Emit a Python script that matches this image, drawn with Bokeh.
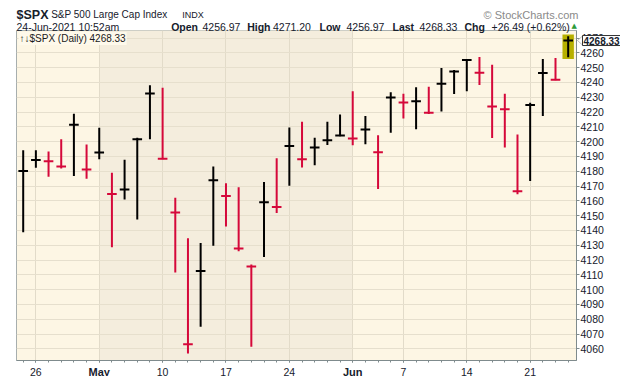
from datetime import date
from bokeh.plotting import figure
from bokeh.models import FixedTicker, Label, Range1d, ColumnDataSource, PolyAnnotation
from bokeh.embed import file_html
from bokeh.resources import INLINE

# ---------------- data ----------------
dates = ["2021-04-23", "2021-04-26", "2021-04-27", "2021-04-28", "2021-04-29", "2021-04-30",
         "2021-05-03", "2021-05-04", "2021-05-05", "2021-05-06", "2021-05-07",
         "2021-05-10", "2021-05-11", "2021-05-12", "2021-05-13", "2021-05-14",
         "2021-05-17", "2021-05-18", "2021-05-19", "2021-05-20", "2021-05-21",
         "2021-05-24", "2021-05-25", "2021-05-26", "2021-05-27", "2021-05-28",
         "2021-06-01", "2021-06-02", "2021-06-03", "2021-06-04",
         "2021-06-07", "2021-06-08", "2021-06-09", "2021-06-10", "2021-06-11",
         "2021-06-14", "2021-06-15", "2021-06-16", "2021-06-17", "2021-06-18",
         "2021-06-21", "2021-06-22", "2021-06-23", "2021-06-24"]
highs = [4194.17, 4194.19, 4193.35, 4201.53, 4218.78, 4198.10,
         4209.39, 4179.04, 4187.72, 4202.70, 4238.04,
         4236.39, 4162.04, 4134.73, 4131.58, 4183.13,
         4171.92, 4169.15, 4116.93, 4172.80, 4188.72,
         4209.52, 4213.42, 4202.61, 4213.38, 4218.36,
         4234.12, 4217.37, 4204.39, 4233.45,
         4232.34, 4236.74, 4237.09, 4249.74, 4248.38,
         4255.59, 4257.16, 4251.89, 4232.29, 4204.78,
         4226.24, 4255.84, 4256.60, 4271.20]
lows = [4138.78, 4182.36, 4176.22, 4181.78, 4176.81, 4174.85,
        4188.03, 4128.59, 4160.94, 4147.33, 4201.64,
        4188.13, 4111.53, 4056.88, 4074.99, 4129.58,
        4142.69, 4125.99, 4061.41, 4121.97, 4151.72,
        4170.16, 4182.52, 4184.11, 4197.78, 4203.57,
        4197.59, 4198.27, 4167.93, 4206.05,
        4215.66, 4208.41, 4218.74, 4220.34, 4232.25,
        4234.07, 4238.35, 4202.45, 4196.05, 4164.40,
        4173.40, 4217.27, 4241.43, 4256.97]
closes = [4180.17, 4187.62, 4186.72, 4183.18, 4211.47, 4181.17,
          4192.66, 4164.66, 4167.59, 4201.62, 4232.60,
          4188.43, 4152.10, 4063.04, 4112.50, 4173.85,
          4163.29, 4127.83, 4115.68, 4159.12, 4155.86,
          4197.05, 4188.13, 4195.99, 4200.88, 4204.11,
          4202.04, 4208.12, 4192.85, 4229.89,
          4226.52, 4227.26, 4219.55, 4239.18, 4247.44,
          4255.15, 4246.59, 4223.70, 4221.86, 4166.45,
          4224.79, 4246.44, 4241.84, 4268.33]
prev_close = 4134.98

tick_dates = ["2021-04-26", "2021-05-03", "2021-05-10", "2021-05-17", "2021-05-24",
              "2021-06-01", "2021-06-07", "2021-06-14", "2021-06-21"]
tick_labels = ["26", "May", "10", "17", "24", "Jun", "7", "14", "21"]
y_ticks = [4060, 4070, 4080, 4090, 4100, 4110, 4120, 4130, 4140, 4150, 4160,
           4170, 4180, 4190, 4200, 4210, 4220, 4230, 4240, 4250, 4260, 4270]

hdr_date = "24-Jun-2021 10:52am"
hdr_open, hdr_high, hdr_low, hdr_last = 4256.97, 4271.20, 4256.97, 4268.33
hdr_chg, hdr_pct = 26.49, 0.62

# ---------------- layout helpers ----------------
W, H = 620, 376
FRAME_L, FRAME_R, FRAME_T, FRAME_B = 16, 576, 30, 360
FIRST_BAR_PX, PX_PER_BAR = 22.7, 12.674
Y_TOP, Y_BOT = 4275.1, 4052.1


def xd(px):
    return (px - FIRST_BAR_PX) / PX_PER_BAR


def ypx(v):
    return FRAME_T + (Y_TOP - v) * (FRAME_B - FRAME_T) / (Y_TOP - Y_BOT)


FONT = "Liberation Sans"
TXT = "#16202C"
RED = "#D5083A"
BLACK = "#000000"
ABS = {"position": "absolute", "left": "0px", "top": "0px"}

n = len(dates)
xs = list(range(n))
colors = []
pc = prev_close
for c in closes:
    colors.append(BLACK if c >= pc else RED)
    pc = c

src = ColumnDataSource(dict(x=xs, xl=[i - 0.38 for i in xs], xr=[i + 0.38 for i in xs],
                            high=highs, low=lows, close=closes, color=colors))

p = figure(width=W, height=H, output_backend="svg", toolbar_location=None, title=None,
           x_range=Range1d(xd(FRAME_L), xd(FRAME_R)), y_range=Range1d(Y_BOT, Y_TOP),
           y_axis_location="right", min_border_left=FRAME_L, min_border_right=W - FRAME_R,
           min_border_top=FRAME_T, min_border_bottom=H - FRAME_B, styles=ABS)

p.background_fill_color = "#FDF6E4"
p.border_fill_color = "#FFFFFF"
p.outline_line_color = "#A7AEAE"

# month shading (May darker)
dts = [date.fromisoformat(d) for d in dates]
month_starts = [i for i in range(1, n) if dts[i].month != dts[i - 1].month]
p.quad(left=[month_starts[0]], right=[month_starts[1]], bottom=[Y_BOT - 50], top=[Y_TOP + 50],
       fill_color="#F4EDDD", line_color=None, level="image")

# axes
tick_idx = [dates.index(d) for d in tick_dates]
p.xaxis.ticker = FixedTicker(ticks=tick_idx, minor_ticks=xs)
p.xaxis.major_label_overrides = {i: "" for i in tick_idx}
p.xaxis.axis_line_color = "#7F8B8D"
p.xaxis.major_tick_line_color = "#7F8B8D"
p.xaxis.minor_tick_line_color = "#7F8B8D"
p.xaxis.major_tick_in = 0
p.xaxis.major_tick_out = 2
p.xaxis.minor_tick_in = 0
p.xaxis.minor_tick_out = 2

p.yaxis.ticker = FixedTicker(ticks=y_ticks)
p.yaxis.axis_line_color = "#7F8B8D"
p.yaxis.major_tick_line_color = "#7F8B8D"
p.yaxis.major_tick_in = 0
p.yaxis.major_tick_out = 3
p.yaxis.minor_tick_out = 0
p.yaxis.minor_tick_in = 0
p.yaxis.major_label_standoff = 1
p.yaxis.major_label_text_font = FONT
p.yaxis.major_label_text_font_size = "10.5px"
p.yaxis.major_label_text_color = TXT

p.xgrid.grid_line_color = "#E2DBC9"
p.ygrid.grid_line_color = "#E6DFCD"

# highlight of the latest bar
p.quad(left=[xs[-1] - 0.45], right=[xs[-1] + 0.45], bottom=[lows[-1] - 1.2], top=[highs[-1] + 1.2],
       fill_color="#B7B000", line_color=None)

# bars: high-low line and close cross tick
p.segment(x0="x", y0="low", x1="x", y1="high", line_color="color", line_width=2, source=src)
p.segment(x0="xl", y0="close", x1="xr", y1="close", line_color="color", line_width=2, source=src)

# ---------------- transparent text overlay (pixel coordinates, y down) ----------------
ov = figure(width=W, height=H, output_backend="svg", toolbar_location=None, title=None,
            x_range=Range1d(0, W), y_range=Range1d(H, 0), x_axis_type=None, y_axis_type=None,
            min_border=0, styles=ABS)
ov.background_fill_color = None
ov.border_fill_color = None
ov.outline_line_color = None
ov.grid.visible = False


def clabel(px, py, text, size="10.5px", bold=False, color=TXT, align="left",
           baseline="alphabetic", font=FONT, **kw):
    lab = Label(x=px, y=py, text=text, text_align=align,
                text_baseline=baseline, text_font=font, text_font_size=size,
                text_font_style="bold" if bold else "normal", text_color=color, **kw)
    ov.add_layout(lab)
    return lab


# x labels
for i, lab in zip(tick_idx, tick_labels):
    bold = not lab.isdigit()
    clabel(FIRST_BAR_PX + i * PX_PER_BAR, 371, lab, size="11px" if bold else "10.5px",
           bold=bold, align="center")

# legend in plot
clabel(18, 38, "\u2191\u2193$SPX (Daily) %.2f" % hdr_last, size="10px", color="#1A1A1A",
       background_fill_color="#FEF9EB", padding=1)

# price callout on the right axis
yc = ypx(hdr_last)
ov.add_layout(PolyAnnotation(xs=[577, 582, 582], ys=[yc, yc - 4.5, yc + 4.5],
                             fill_color="#FFFFFF", fill_alpha=1, line_color="#333333", line_width=1))
clabel(582, yc, "%.2f" % hdr_last, size="10px", bold=True, baseline="middle",
       background_fill_color="#FFFFFF", border_line_color="#333333", border_line_width=1, padding=1)

# header
BOLD_SZ = "10.5px"
clabel(16, 14, "$SPX", size="12.5px", bold=True)
clabel(50.7, 14, "S&P 500 Large Cap Index", size="10px")
clabel(181.7, 14, "INDX", size="9px")
clabel(578, 14, "\u00a9 StockCharts.com", size="11px", color="#8A8A8A", align="right")
clabel(16, 26, hdr_date)
clabel(170.7, 26, "Open", size=BOLD_SZ, bold=True)
clabel(202, 26, "%.2f" % hdr_open)
clabel(246.7, 26, "High", size=BOLD_SZ, bold=True)
clabel(272.5, 26, "%.2f" % hdr_high)
clabel(319, 26, "Low", size=BOLD_SZ, bold=True)
clabel(346, 26, "%.2f" % hdr_low)
clabel(392, 26, "Last", size=BOLD_SZ, bold=True)
clabel(419, 26, "%.2f" % hdr_last)
clabel(464, 26, "Chg", size=BOLD_SZ, bold=True)
clabel(491, 26, "+%.2f (+%.2f%%)" % (hdr_chg, hdr_pct))
clabel(571, 25, "\u25b2", size="7px", color="#2E9B3A", font="DejaVu Sans")

open("out.html", "w").write(file_html([p, ov], INLINE))
